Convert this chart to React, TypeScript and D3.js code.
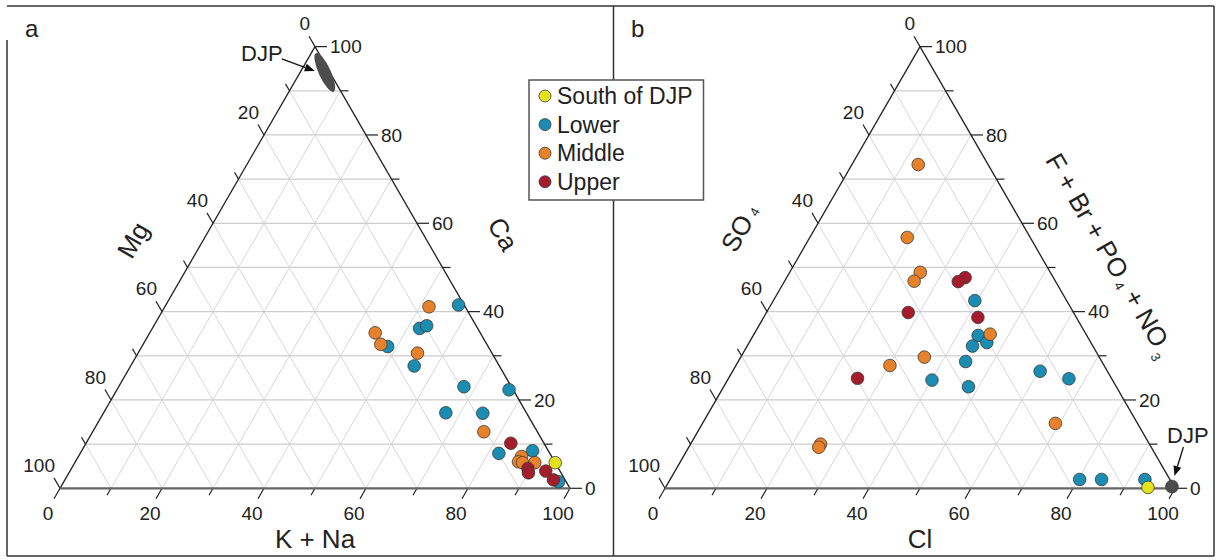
import React from 'react';
import * as d3 from 'd3';

// ---------- data (ternary compositions, %) ----------
// Panel a: [K+Na (bottom), Mg (left), Ca (right/apex)]
const catLower: number[][] = [
  [57.4, 1.1, 41.5], [52.4, 11.4, 36.2], [53.5, 9.7, 36.8], [48.2, 19.7, 32.1],
  [55.6, 16.7, 27.7], [67.7, 9.3, 23.0], [76.9, 0.8, 22.3], [67.1, 15.8, 17.1],
  [74.4, 8.6, 17.0], [82.1, 10.0, 7.9], [88.4, 3.1, 8.5], [97.0, 1.5, 1.5],
];
const catMiddle: number[][] = [
  [51.8, 7.1, 41.1], [44.2, 20.6, 35.2], [46.6, 20.8, 32.6], [54.8, 14.6, 30.6],
  [76.7, 10.5, 12.8], [86.9, 5.9, 7.2], [86.9, 7.1, 6.0], [87.8, 6.4, 5.8], [90.2, 4.0, 5.8],
];
const catUpper: number[][] = [
  [83.3, 6.5, 10.2], [89.5, 6.0, 4.5], [90.1, 6.4, 3.5], [93.3, 2.8, 3.9], [95.8, 2.3, 1.9],
];
const catSouth: number[][] = [[94.2, 0.0, 5.8]];
const catDJP: number[][] = [[1.3, 0.6, 98.1], [8.4, 1.4, 90.2]]; // ends of the DJP field

// Panel b: [Cl (bottom), SO4 (left), F+Br+PO4+NO3 (right/apex)]
const anLower: number[][] = [
  [39.5, 18.0, 42.5], [44.1, 21.3, 34.6], [44.2, 23.6, 32.2], [46.6, 20.4, 33.0],
  [40.1, 35.4, 24.5], [44.6, 26.7, 28.7], [48.0, 29.0, 23.0], [60.3, 13.2, 26.5],
  [66.8, 8.4, 24.8], [80.3, 17.7, 2.0], [84.6, 13.4, 2.0], [93.1, 4.9, 2.0],
];
const anMiddle: number[][] = [
  [13.0, 13.7, 73.3], [19.1, 24.1, 56.8], [25.6, 25.5, 48.9], [25.4, 27.7, 46.9],
  [46.3, 18.8, 34.9], [36.0, 34.3, 29.7], [30.2, 42.0, 27.8], [69.2, 16.1, 14.7],
  [25.5, 64.5, 10.0], [25.5, 65.2, 9.3],
];
const anUpper: number[][] = [
  [35.0, 17.3, 47.7], [34.1, 19.1, 46.8], [27.8, 32.4, 39.8], [42.0, 19.3, 38.7], [25.3, 49.8, 24.9],
];
const anSouth: number[][] = [[94.6, 5.2, 0.2]];
const anDJP: number[][] = [[99.2, 0.4, 0.4]];

const groupNames = ['South of DJP', 'Lower', 'Middle', 'Upper'];
const groupColors = ['#e4e11e', '#1b8db3', '#e8822a', '#a51d2d'];
const tickValues = d3.range(0, 101, 10);
const majorTicks = d3.range(0, 101, 20);

// ---------- geometry ----------
const SIDE = 510;
const HGT = (SIDE * Math.sqrt(3)) / 2;
const xs = d3.scaleLinear().domain([0, 100]).range([0, SIDE]);
const hs = d3.scaleLinear().domain([0, 100]).range([0, HGT]);
const FONT = "'Liberation Sans', Arial, Helvetica, sans-serif";
const TXT = '#222';

type O = [number, number];
const pos = (o: O, b: number, r: number): [number, number] => [o[0] + xs(b) + xs(r) / 2, o[1] - hs(r)];

const originA: O = [60, 488.3];
const originB: O = [665, 488.3];

function Grid({ o }: { o: O }) {
  const els: any[] = [];
  d3.range(10, 100, 10).forEach((v) => {
    const segs = [
      [pos(o, 0, v), pos(o, 100 - v, v), 1.3, '#cdcdcd'],
      [pos(o, v, 0), pos(o, v, 100 - v), 0.9, '#d2d2d2'],
      [pos(o, 100 - v, 0), pos(o, 0, 100 - v), 0.9, '#d2d2d2'],
    ] as any[];
    segs.forEach((s, i) =>
      els.push(
        <line key={`g${v}-${i}`} x1={s[0][0]} y1={s[0][1]} x2={s[1][0]} y2={s[1][1]} stroke={s[3]} strokeWidth={s[2]} />
      )
    );
  });
  return <g>{els}</g>;
}

function Axes({ o }: { o: O }) {
  const A = pos(o, 0, 100), L = pos(o, 0, 0), R = pos(o, 100, 0);
  const els: any[] = [];
  const dl = [-0.5, Math.sqrt(3) / 2];
  const du = [-0.5, -Math.sqrt(3) / 2];
  tickValues.forEach((v) => {
    const major = v % 20 === 0;
    const len = major ? 12 : 8;
    const pb = pos(o, v, 0);
    els.push(<line key={`tb${v}`} x1={pb[0]} y1={pb[1]} x2={pb[0] + len * dl[0]} y2={pb[1] + len * dl[1]} stroke="#222" strokeWidth={1.2} />);
    const pr = pos(o, 100 - v, v);
    els.push(<line key={`tr${v}`} x1={pr[0]} y1={pr[1]} x2={pr[0] + len} y2={pr[1]} stroke="#222" strokeWidth={1.2} />);
    const pl = pos(o, 0, 100 - v);
    els.push(<line key={`tl${v}`} x1={pl[0]} y1={pl[1]} x2={pl[0] + len * du[0]} y2={pl[1] + len * du[1]} stroke="#222" strokeWidth={1.2} />);
  });
  majorTicks.forEach((v) => {
    const pb = pos(o, v, 0);
    els.push(<text key={`lb${v}`} x={pb[0] - 12} y={pb[1] + 25} dy="0.35em" textAnchor="middle">{v}</text>);
    const pr = pos(o, 100 - v, v);
    els.push(<text key={`lr${v}`} x={pr[0] + 15} y={pr[1]} dy="0.35em" textAnchor="start">{v}</text>);
    const pl = pos(o, 0, 100 - v);
    els.push(<text key={`ll${v}`} x={pl[0] - 5} y={pl[1] - 23} dy="0.35em" textAnchor="end">{v}</text>);
  });
  return (
    <g fontFamily={FONT} fontSize={19} fill={TXT}>
      {els}
      <line x1={L[0]} y1={L[1]} x2={A[0]} y2={A[1]} stroke="#222" strokeWidth={1.3} />
      <line x1={R[0]} y1={R[1]} x2={A[0]} y2={A[1]} stroke="#222" strokeWidth={1.3} />
      <line x1={L[0]} y1={L[1]} x2={R[0]} y2={R[1]} stroke="#666" strokeWidth={2.2} />
    </g>
  );
}

function Points({ o, sets }: { o: O; sets: number[][][] }) {
  // draw order: Lower, Middle, Upper, South
  const order = [1, 2, 3, 0];
  return (
    <g>
      {order.map((gi) =>
        sets[gi].map((d, i) => {
          const p = pos(o, d[0], d[2]);
          return <circle key={`${gi}-${i}`} cx={p[0]} cy={p[1]} r={6.3} fill={groupColors[gi]} stroke="#3a3a3a" strokeWidth={0.8} />;
        })
      )}
    </g>
  );
}

function Arrow({ from, to }: { from: [number, number]; to: [number, number] }) {
  const ang = Math.atan2(to[1] - from[1], to[0] - from[0]);
  const L = 10, W = 4;
  const bx = to[0] - L * Math.cos(ang), by = to[1] - L * Math.sin(ang);
  const nx = -Math.sin(ang), ny = Math.cos(ang);
  return (
    <g>
      <line x1={from[0]} y1={from[1]} x2={bx} y2={by} stroke="#111" strokeWidth={1.3} />
      <polygon points={`${to[0]},${to[1]} ${bx + W * nx},${by + W * ny} ${bx - W * nx},${by - W * ny}`} fill="#111" />
    </g>
  );
}

export default function App() {
  // DJP field in panel a
  const e1 = pos(originA, catDJP[0][0], catDJP[0][2]);
  const e2 = pos(originA, catDJP[1][0], catDJP[1][2]);
  const ec = [(e1[0] + e2[0]) / 2, (e1[1] + e2[1]) / 2];
  const elen = Math.hypot(e2[0] - e1[0], e2[1] - e1[1]);
  const eang = (Math.atan2(e2[1] - e1[1], e2[0] - e1[0]) * 180) / Math.PI;
  const tipA: [number, number] = [ec[0] - 10, ec[1] - 1.5];
  const djpB = pos(originB, anDJP[0][0], anDJP[0][2]);
  const tipB: [number, number] = [djpB[0] + 2.5, djpB[1] - 10.5];

  const leg = { x: 529, y: 80, w: 174.5, h: 120 };

  return (
    <div style={{ position: 'absolute', left: 0, top: 0 }}>
      <svg width={1221} height={560} style={{ display: 'block', background: '#fff' }}>
        {/* frame */}
        <line x1={7} y1={6} x2={1214} y2={6} stroke="#333" strokeWidth={1.5} />
        <line x1={7} y1={40} x2={7} y2={556} stroke="#333" strokeWidth={1.5} />
        <line x1={1214} y1={6} x2={1214} y2={556} stroke="#333" strokeWidth={1.5} />
        <line x1={7} y1={556} x2={1214} y2={556} stroke="#333" strokeWidth={1.5} />
        <line x1={613.5} y1={6} x2={613.5} y2={556} stroke="#333" strokeWidth={1.5} />

        {/* panel a */}
        <Grid o={originA} />
        <Axes o={originA} />
        <ellipse cx={ec[0]} cy={ec[1]} rx={elen / 2 + 2} ry={6} transform={`rotate(${eang} ${ec[0]} ${ec[1]})`} fill="#4d4d4d" />
        <Points o={originA} sets={[catSouth, catLower, catMiddle, catUpper]} />
        <Arrow from={[tipA[0] - 33, tipA[1] - 12]} to={tipA} />
        <g fontFamily={FONT} fill={TXT}>
          <text x={25} y={37} fontSize={24}>a</text>
          <text x={241} y={61} fontSize={22}>DJP</text>
          <text x={originA[0] + SIDE / 2} y={548} fontSize={26} textAnchor="middle">K + Na</text>
          <text x={133} y={240} fontSize={26} textAnchor="middle" dy="0.35em" transform="rotate(-60 133 240)">Mg</text>
          <text x={503} y={234} fontSize={26} textAnchor="middle" dy="0.35em" transform="rotate(60 503 234)">Ca</text>
        </g>

        {/* panel b */}
        <Grid o={originB} />
        <Axes o={originB} />
        <Points o={originB} sets={[anSouth, anLower, anMiddle, anUpper]} />
        {anDJP.map((d, i) => {
          const p = pos(originB, d[0], d[2]);
          return <circle key={`djp${i}`} cx={p[0]} cy={p[1]} r={6.5} fill="#4d4d4d" stroke="#3a3a3a" strokeWidth={0.6} />;
        })}
        <Arrow from={[tipB[0] + 9, tipB[1] - 29]} to={tipB} />
        <g fontFamily={FONT} fill={TXT}>
          <text x={631} y={37} fontSize={24}>b</text>
          <text x={1167} y={443} fontSize={22}>DJP</text>
          <text x={originB[0] + SIDE / 2} y={548} fontSize={26} textAnchor="middle">Cl</text>
          <text x={740} y={228} fontSize={26} textAnchor="middle" dy="0.35em" transform="rotate(-60 740 228)">
            SO<tspan fontSize={13} dx={5}>4</tspan>
          </text>
          <text x={1110} y={255} fontSize={26} textAnchor="middle" dy="0.35em" transform="rotate(60 1110 255)">
            F + Br + PO<tspan fontSize={13} dx={4} dy={3}>4</tspan>
            <tspan dy={-3}> + NO</tspan>
            <tspan fontSize={13} dx={4} dy={7}>3</tspan>
          </text>
        </g>

        {/* legend */}
        <rect x={leg.x} y={leg.y} width={leg.w} height={leg.h} fill="#fff" stroke="#555" strokeWidth={1.5} />
        <g fontFamily={FONT} fontSize={23} fill={TXT}>
          {groupNames.map((n, i) => {
            const cy = 96 + i * 28.6;
            return (
              <g key={n}>
                <circle cx={545} cy={cy} r={6} fill={groupColors[i]} stroke="#3a3a3a" strokeWidth={0.8} />
                <text x={557} y={cy} dy="0.35em">{n}</text>
              </g>
            );
          })}
        </g>
      </svg>
    </div>
  );
}
